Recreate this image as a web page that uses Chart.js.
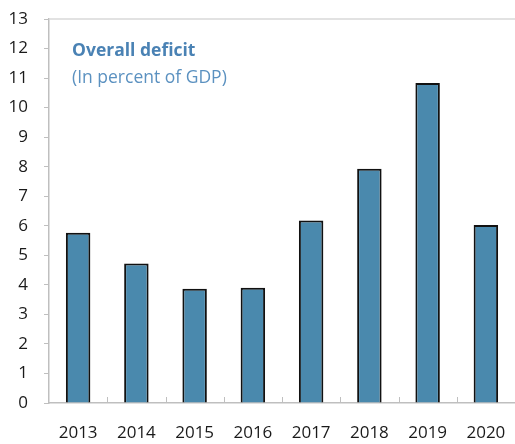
<!DOCTYPE html>
<html>
<head>
<meta charset="utf-8">
<script src="https://cdn.jsdelivr.net/npm/chart.js@4"></script>
<style>
  html, body { margin: 0; padding: 0; background: #fff; overflow: hidden; }
</style>
</head>
<body>
<canvas id="deficitChart" width="515" height="444"></canvas>
<script>
const years = ['2013', '2014', '2015', '2016', '2017', '2018', '2019', '2020'];
const deficit = [5.76, 4.72, 3.87, 3.9, 6.18, 7.93, 10.83, 6.03];
const yTicks = [0, 1, 2, 3, 4, 5, 6, 7, 8, 9, 10, 11, 12, 13];

// frame line on top, short upward ticks between years, and the title block
const decorPlugin = {
    id: 'decor',
    afterDraw(chart) {
        const c = chart.ctx;
        const area = chart.chartArea;
        const x = chart.scales.x;
        c.save();
        c.strokeStyle = '#d9d9d9';
        c.lineWidth = 1.5;
        c.beginPath();
        c.moveTo(area.left, area.top);
        c.lineTo(area.right, area.top);
        c.stroke();
        c.strokeStyle = '#bfbfbf';
        c.lineWidth = 1;
        for (let i = 1; i < years.length; i++) {
            const px = Math.round((x.getPixelForValue(i - 1) + x.getPixelForValue(i)) / 2) + 0.5;
            c.beginPath();
            c.moveTo(px, area.bottom);
            c.lineTo(px, area.bottom - 6);
            c.stroke();
        }
        c.fillStyle = '#4a82b4';
        c.textBaseline = 'alphabetic';
        c.font = 'bold 17.5px "Open Sans"';
        c.fillText('Overall deficit', area.left + 23, 56);
        c.fillStyle = '#5b91c0';
        c.font = '17.5px "Open Sans"';
        c.fillText('(In percent of GDP)', area.left + 23, 83);
        c.restore();
    }
};

const ctx = document.getElementById('deficitChart').getContext('2d');
new Chart(ctx, {
    type: 'bar',
    data: {
        labels: years,
        datasets: [{
            data: deficit,
            backgroundColor: '#4a89ad',
            borderColor: '#111111',
            borderWidth: 2,
            borderSkipped: 'start',
            categoryPercentage: 0.42,
            barPercentage: 1
        }]
    },
    options: {
        responsive: false,
        animation: false,
        layout: { padding: { left: 2, right: -2, top: 19, bottom: 0 } },
        plugins: {
            legend: { display: false },
            tooltip: { enabled: false }
        },
        scales: {
            x: {
                afterFit(axis) {
                    axis.height = 41;
                    axis.paddingLeft = 0;
                    axis.paddingRight = 0;
                },
                grid: { display: false, drawTicks: false },
                border: { color: '#bfbfbf', width: 1.5 },
                ticks: { color: '#1a1a1a', font: { family: 'Open Sans', size: 17 }, padding: 20, maxRotation: 0 }
            },
            y: {
                min: 0,
                max: 13,
                afterFit(axis) {
                    axis.width = 47;
                    axis.paddingTop = 0;
                    axis.paddingBottom = 0;
                },
                afterBuildTicks(axis) {
                    axis.ticks = yTicks.map(v => ({ value: v }));
                },
                grid: { drawOnChartArea: false, drawTicks: true, tickLength: 5, color: '#bfbfbf' },
                border: { color: '#bfbfbf', width: 1.5 },
                ticks: { color: '#1a1a1a', font: { family: 'Open Sans', size: 17 }, padding: 16 }
            }
        }
    },
    plugins: [decorPlugin]
});
</script>
</body>
</html>
